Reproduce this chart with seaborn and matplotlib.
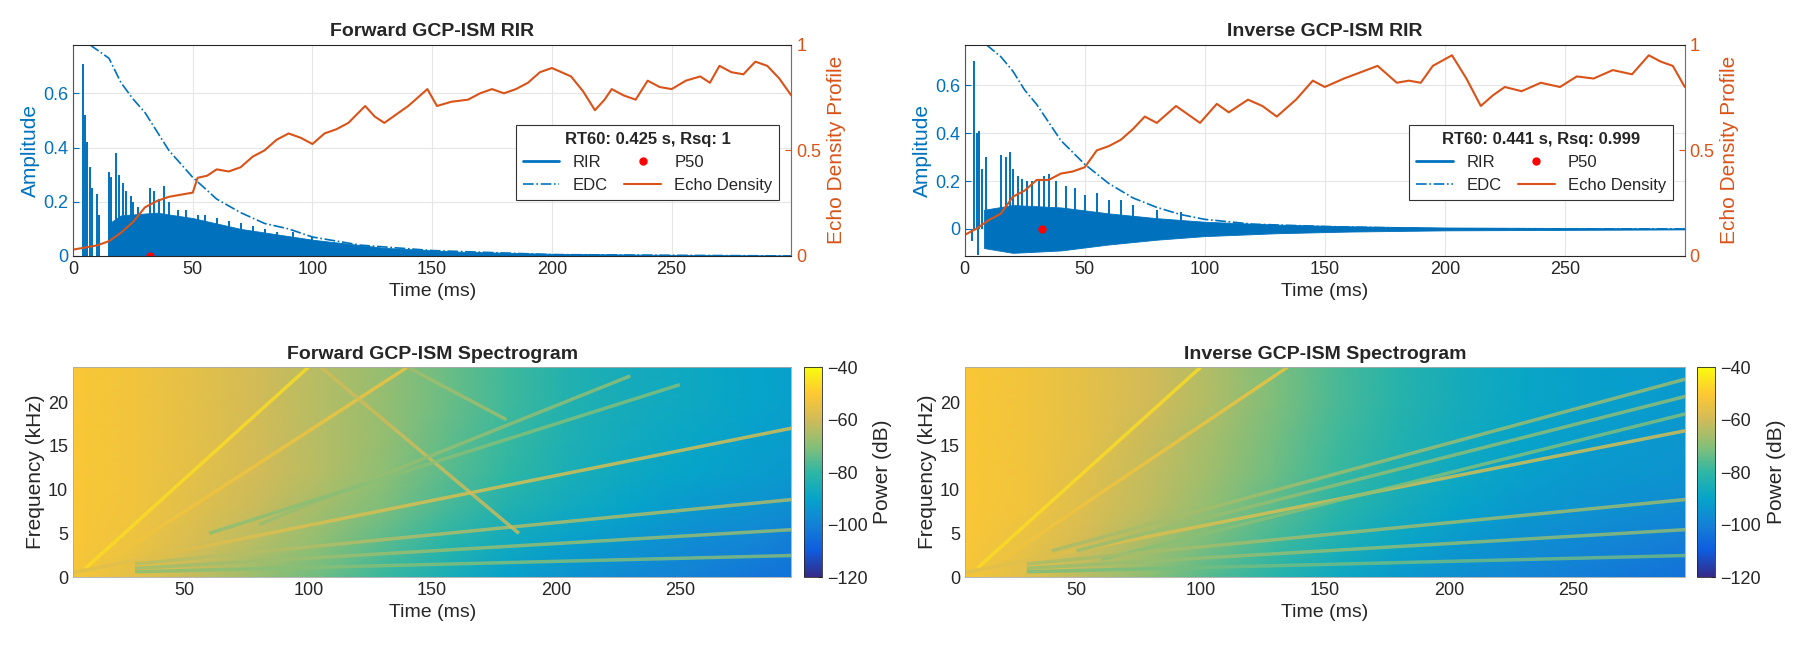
import numpy as np
import pandas as pd
import matplotlib
matplotlib.use("Agg")
import matplotlib.pyplot as plt
from matplotlib.colors import LinearSegmentedColormap, Normalize
from matplotlib.lines import Line2D
import seaborn as sns

sns.set_style("white")
plt.rcParams['font.family'] = ['Liberation Sans', 'DejaVu Sans']

BLUE = '#0072BD'
ORANGE = '#D95319'

# ---------------- RIR data ----------------
fwd_spike_t = [4, 5, 6, 7, 8, 10, 11, 15, 16, 18, 19, 21, 22, 24, 25, 27, 29, 32, 34, 36, 38, 40,
               44, 47, 52, 55, 60, 65, 70, 75, 80, 85, 92, 100]
fwd_spike_a = [0.71, 0.52, 0.42, 0.33, 0.25, 0.23, 0.15, 0.31, 0.29, 0.38, 0.30, 0.27, 0.24, 0.22,
               0.20, 0.18, 0.15, 0.25, 0.24, 0.21, 0.26, 0.20, 0.17, 0.17, 0.15, 0.15, 0.14, 0.13,
               0.12, 0.11, 0.10, 0.09, 0.09, 0.07]
fwd_env_t = [15, 20, 35, 50, 70, 100, 130, 160, 200, 250, 300]
fwd_env_a = [0.12, 0.15, 0.16, 0.14, 0.10, 0.06, 0.03, 0.016, 0.008, 0.004, 0.002]

inv_spike_t = [3, 4, 5, 5.5, 6, 7, 9, 15, 16, 17, 18, 19, 20, 22, 24, 26, 28, 31, 33, 35, 38, 42, 46,
               50, 55, 60, 65, 70, 80, 90]
inv_spike_a = [-0.05, 0.70, 0.40, -0.11, 0.41, 0.25, 0.30, 0.31, -0.06, 0.30, -0.07, 0.32, 0.25, 0.22,
               0.21, 0.20, 0.20, 0.20, 0.22, 0.23, 0.20, 0.18, 0.17, 0.14, 0.15, 0.12, 0.12, 0.10,
               0.08, 0.07]
inv_env_t = [8, 20, 40, 60, 80, 100, 130, 160, 200, 250, 300]
inv_env_a = [0.08, 0.10, 0.09, 0.065, 0.045, 0.03, 0.018, 0.011, 0.006, 0.004, 0.002]

fwd_edc_t = [7, 15, 20, 25, 30, 40, 50, 60, 70, 80, 90, 100, 120, 150, 200, 300]
fwd_edc = [0.78, 0.73, 0.64, 0.58, 0.53, 0.39, 0.29, 0.21, 0.16, 0.12, 0.10, 0.07, 0.04, 0.02, 0.005, 0.0]
inv_edc_t = [9, 15, 20, 25, 30, 40, 50, 60, 70, 80, 90, 100, 120, 150, 200, 300]
inv_edc = [0.77, 0.72, 0.66, 0.58, 0.52, 0.37, 0.27, 0.19, 0.13, 0.09, 0.06, 0.04, 0.02, 0.01, 0.0, 0.0]

fwd_ed_t = [0, 5, 10, 15, 20, 25, 30, 35, 40, 45, 50, 52, 56, 60, 65, 70, 75, 80, 85, 90, 95, 100,
            105, 110, 115, 122, 126, 130, 135, 140, 148, 152, 158, 165, 170, 175, 180, 185, 190,
            195, 200, 204, 208, 213, 218, 222, 225, 230, 235, 240, 245, 250, 256, 262, 266, 270,
            275, 280, 285, 290, 295, 300]
fwd_ed = [0.03, 0.04, 0.05, 0.07, 0.11, 0.16, 0.23, 0.26, 0.28, 0.29, 0.30, 0.37, 0.38, 0.41, 0.40,
          0.42, 0.47, 0.50, 0.55, 0.58, 0.56, 0.53, 0.58, 0.60, 0.63, 0.71, 0.66, 0.63, 0.67, 0.71,
          0.79, 0.71, 0.73, 0.74, 0.77, 0.79, 0.77, 0.79, 0.82, 0.87, 0.89, 0.87, 0.85, 0.78, 0.69,
          0.74, 0.79, 0.76, 0.74, 0.83, 0.80, 0.79, 0.83, 0.85, 0.82, 0.90, 0.87, 0.86, 0.92, 0.90,
          0.84, 0.76]
inv_ed_t = [0, 5, 10, 15, 20, 25, 30, 35, 40, 45, 50, 55, 60, 65, 70, 75, 80, 88, 93, 98, 105, 110,
            118, 124, 130, 138, 145, 150, 158, 165, 172, 176, 180, 185, 190, 195, 203, 209, 215,
            220, 225, 232, 240, 248, 255, 262, 270, 278, 285, 290, 295, 300]
inv_ed = [0.10, 0.13, 0.17, 0.20, 0.28, 0.31, 0.36, 0.36, 0.39, 0.40, 0.42, 0.50, 0.52, 0.55, 0.60,
          0.66, 0.63, 0.71, 0.67, 0.63, 0.72, 0.68, 0.74, 0.71, 0.66, 0.74, 0.83, 0.80, 0.84, 0.87,
          0.90, 0.86, 0.82, 0.83, 0.82, 0.90, 0.95, 0.84, 0.71, 0.76, 0.80, 0.78, 0.82, 0.80, 0.85,
          0.84, 0.88, 0.86, 0.95, 0.92, 0.90, 0.80]

p50_t = 32

# ---------------- spectrogram data ----------------
spec_t = [5, 30, 55, 80, 105, 130, 155, 180, 205, 230, 255, 280, 295]
spec_f = [0, 4, 8, 12, 16, 20, 24]
fwd_power = [
    [-52, -56, -62, -68, -73, -79, -85, -91, -95, -98, -100, -103, -104],
    [-51, -54, -59, -64, -69, -75, -81, -87, -91, -94, -97, -99, -101],
    [-51, -53, -57, -61, -66, -71, -77, -83, -87, -90, -93, -95, -96],
    [-51, -53, -56, -60, -64, -69, -75, -80, -85, -88, -90, -92, -93],
    [-51, -53, -56, -60, -64, -68, -74, -79, -84, -87, -89, -91, -92],
    [-51, -53, -56, -60, -64, -68, -73, -78, -83, -86, -88, -90, -91],
    [-51, -53, -56, -60, -64, -68, -73, -78, -83, -86, -88, -90, -91],
]
inv_power = [
    [-52, -57, -64, -70, -76, -82, -88, -93, -96, -99, -101, -103, -104],
    [-51, -55, -60, -66, -72, -78, -84, -89, -93, -96, -98, -100, -101],
    [-51, -53, -58, -63, -69, -75, -81, -86, -90, -93, -95, -96, -97],
    [-51, -53, -57, -62, -67, -73, -79, -84, -88, -91, -93, -94, -95],
    [-51, -53, -56, -61, -66, -72, -78, -83, -87, -90, -92, -93, -94],
    [-51, -53, -56, -60, -65, -71, -77, -82, -86, -89, -91, -92, -93],
    [-51, -53, -56, -60, -65, -71, -77, -82, -86, -89, -91, -92, -93],
]
# reflection streaks: t0, f0, t1, f1, power
fwd_streaks = [(10, 1, 100, 24, -46), (20, 2, 140, 24, -53), (5, 0.5, 300, 17.3, -57),
               (30, 1.5, 300, 9, -64), (30, 1, 300, 5.5, -67), (30, 0.6, 300, 2.5, -70),
               (105, 24, 185, 5, -60), (140, 24, 180, 18, -66), (80, 6, 230, 23, -68),
               (60, 5, 250, 22, -70)]
inv_streaks = [(10, 1, 100, 24, -46), (20, 2, 135, 24, -53), (5, 0.5, 300, 17.0, -57),
               (40, 3, 300, 23, -66), (50, 3, 300, 21, -68), (60, 2, 300, 19, -70),
               (30, 1.5, 300, 9, -66), (30, 1, 300, 5.5, -68), (30, 0.6, 300, 2.5, -72)]

parula = LinearSegmentedColormap.from_list(
    'parula', ['#352a87', '#0f5cdd', '#1481d6', '#06a4ca', '#2eb7a4',
               '#87bf77', '#d1bb59', '#fec832', '#f9fb0e'])
norm = Normalize(-120, -40)

fig = plt.figure(figsize=(18, 6.58), dpi=100)


def rir_panel(rect, title, sp_t, sp_a, env_t, env_a, edc_t, edc, ed_t, ed, ylim, rt, symmetric):
    ax = fig.add_axes(rect)
    tt = np.linspace(env_t[0], 300, 600)
    env = np.interp(tt, env_t, env_a)
    low = -env if symmetric else np.zeros_like(env)
    ax.fill_between(tt, low, env, color=BLUE, lw=0.6)
    ax.vlines(sp_t, 0, sp_a, color=BLUE, lw=1.4)
    sns.lineplot(x=edc_t, y=edc, ax=ax, color=BLUE, lw=1.2, linestyle='-.')
    ax.plot([p50_t], [0], 'o', color='red', ms=5)
    ax.set_xlim(0, 300)
    ax.set_ylim(*ylim)
    ax.set_yticks([0, 0.2, 0.4, 0.6])
    ax.set_yticklabels(['0', '0.2', '0.4', '0.6'])
    ax.set_xticks([0, 50, 100, 150, 200, 250])
    ax.grid(True, color='#e6e6e6', lw=0.8)
    ax.set_xlabel('Time (ms)', fontsize=14, color='#262626')
    ax.set_ylabel('Amplitude', fontsize=15, color=BLUE, labelpad=2)
    ax.tick_params(axis='y', colors=BLUE, labelsize=13, length=4, direction='in')
    ax.tick_params(axis='x', colors='#262626', labelsize=13, length=4, direction='in')
    ax.set_title(title, fontsize=14, fontweight='bold', pad=6)

    ax2 = ax.twinx()
    sns.lineplot(x=ed_t, y=ed, ax=ax2, color=ORANGE, lw=1.5)
    ax2.set_ylim(0, 1)
    ax2.set_yticks([0, 0.5, 1])
    ax2.set_yticklabels(['0', '0.5', '1'])
    ax2.set_ylabel('Echo Density Profile', fontsize=15, color=ORANGE)
    ax2.tick_params(axis='y', colors=ORANGE, labelsize=13, length=4, direction='in')
    for s in ax2.spines.values():
        s.set_color('#262626')
        s.set_linewidth(0.7)
    ax2.spines['left'].set_color(BLUE)
    ax2.spines['right'].set_color(ORANGE)

    handles = [Line2D([], [], color=BLUE, lw=2),
               Line2D([], [], color=BLUE, lw=1.2, ls='-.'),
               Line2D([], [], color='red', marker='o', ls='', ms=5),
               Line2D([], [], color=ORANGE, lw=1.5)]
    leg = ax2.legend(handles, ['RIR', 'EDC', 'P50', 'Echo Density'], ncol=2,
                     loc='upper right', bbox_to_anchor=(0.995, 0.66), fontsize=12,
                     title=rt, title_fontproperties={'weight': 'bold', 'size': 12},
                     fancybox=False, edgecolor='#333333', framealpha=1,
                     handlelength=2.2, columnspacing=1.0, borderpad=0.4)
    leg.get_frame().set_linewidth(0.8)


def spec_panel(rect, cbrect, title, power, streaks):
    ax = fig.add_axes(rect)
    ax.pcolormesh(spec_t, spec_f, np.array(power), cmap=parula, norm=norm, shading='gouraud')
    for t0, f0, t1, f1, p in streaks:
        ax.plot([t0, t1], [f0, f1], color=parula(norm(p)), lw=2.5, alpha=0.8,
                solid_capstyle='butt')
    ax.set_xlim(5, 295)
    ax.set_ylim(0, 24)
    ax.set_xticks([50, 100, 150, 200, 250])
    ax.set_yticks([0, 5, 10, 15, 20])
    ax.tick_params(colors='#262626', labelsize=13, length=4, direction='in')
    ax.set_xlabel('Time (ms)', fontsize=14, color='#262626')
    ax.set_ylabel('Frequency (kHz)', fontsize=15, color='#262626', labelpad=2)
    ax.set_title(title, fontsize=14, fontweight='bold', pad=6)
    for s in ax.spines.values():
        s.set_color('#aaaaaa')
        s.set_linewidth(0.6)
    cax = fig.add_axes(cbrect)
    sm = plt.cm.ScalarMappable(norm=norm, cmap=parula)
    cb = fig.colorbar(sm, cax=cax, ticks=[-120, -100, -80, -60, -40])
    cb.ax.tick_params(labelsize=13, colors='#262626', length=3, direction='in')
    cb.set_label('Power (dB)', fontsize=15, color='#262626')
    cb.outline.set_linewidth(0.6)


rir_panel([0.0406, 0.611, 0.399, 0.321], 'Forward GCP-ISM RIR', fwd_spike_t, fwd_spike_a,
          fwd_env_t, fwd_env_a, fwd_edc_t, fwd_edc, fwd_ed_t, fwd_ed, (0, 0.78),
          'RT60: 0.425 s, Rsq: 1', False)
rir_panel([0.536, 0.611, 0.400, 0.321], 'Inverse GCP-ISM RIR', inv_spike_t, inv_spike_a,
          inv_env_t, inv_env_a, inv_edc_t, inv_edc, inv_ed_t, inv_ed, (-0.113, 0.77),
          'RT60: 0.441 s, Rsq: 0.999', True)
spec_panel([0.0406, 0.123, 0.399, 0.319], [0.4467, 0.123, 0.010, 0.319],
           'Forward GCP-ISM Spectrogram', fwd_power, fwd_streaks)
spec_panel([0.536, 0.123, 0.400, 0.319], [0.943, 0.123, 0.010, 0.319],
           'Inverse GCP-ISM Spectrogram', inv_power, inv_streaks)

fig.savefig('out.png', dpi=100)
